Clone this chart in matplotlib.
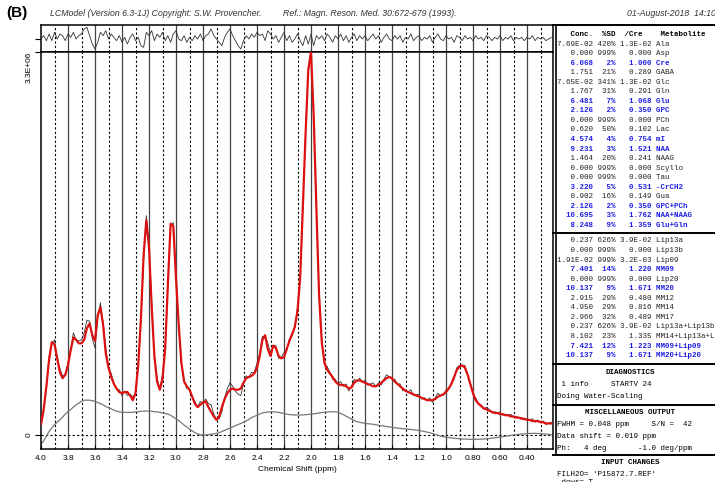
import numpy as np
import matplotlib
matplotlib.use('Agg')
import matplotlib.pyplot as plt
from matplotlib.lines import Line2D

W, H = 715, 482

# chemical shift grid (ppm), 4.00 down to 0.22 in 0.02 steps
ppm = np.round(np.arange(4.00, 0.215, -0.02), 2)

# LCModel fit (x1E+06), one row = 10 points of the grid
fit = [
    0.09, 0.22, 0.42, 0.65, 0.80, 0.78, 0.66, 0.54, 0.49, 0.52,   # 4.00-3.82
    0.60, 0.73, 0.84, 0.82, 0.79, 0.79, 0.82, 0.92, 0.96, 0.86,   # 3.80-3.62
    0.81, 1.03, 1.10, 0.95, 0.70, 0.58, 0.50, 0.44, 0.40, 0.37,   # 3.60-3.42
    0.36, 0.37, 0.37, 0.34, 0.30, 0.36, 0.60, 1.00, 1.55, 1.85,   # 3.40-3.22
    1.62, 1.10, 0.68, 0.46, 0.39, 0.48, 0.75, 1.30, 1.82, 1.80,   # 3.20-3.02
    1.35, 0.95, 0.62, 0.46, 0.42, 0.39, 0.33, 0.27, 0.24, 0.26,   # 3.00-2.82
    0.28, 0.29, 0.24, 0.20, 0.16, 0.13, 0.16, 0.24, 0.31, 0.36,   # 2.80-2.62
    0.39, 0.40, 0.39, 0.39, 0.40, 0.45, 0.49, 0.50, 0.51, 0.53,   # 2.60-2.42
    0.58, 0.68, 0.82, 0.86, 0.74, 0.68, 0.77, 0.75, 0.68, 0.66,   # 2.40-2.22
    0.67, 0.74, 0.81, 0.87, 0.93, 1.07, 1.36, 1.99, 2.60, 3.15,   # 2.20-2.02
    3.30, 2.75, 1.95, 1.20, 0.80, 0.62, 0.56, 0.53, 0.50, 0.46,   # 2.00-1.82
    0.44, 0.43, 0.43, 0.42, 0.40, 0.41, 0.45, 0.47, 0.47, 0.46,   # 1.80-1.62
    0.45, 0.44, 0.43, 0.42, 0.42, 0.43, 0.45, 0.47, 0.49, 0.50,   # 1.60-1.42
    0.49, 0.46, 0.44, 0.42, 0.40, 0.38, 0.37, 0.36, 0.35, 0.34,   # 1.40-1.22
    0.33, 0.32, 0.31, 0.30, 0.30, 0.30, 0.31, 0.33, 0.34, 0.35,   # 1.20-1.02
    0.37, 0.40, 0.44, 0.50, 0.56, 0.59, 0.60, 0.58, 0.52, 0.44,   # 1.00-0.82
    0.36, 0.30, 0.27, 0.25, 0.23, 0.22, 0.21, 0.20, 0.19, 0.19,   # 0.80-0.62
    0.18, 0.18, 0.17, 0.17, 0.16, 0.16, 0.15, 0.15, 0.14, 0.14,   # 0.60-0.42
    0.13, 0.13, 0.12, 0.12, 0.12, 0.11, 0.11, 0.10, 0.10, 0.10,   # 0.40-0.22
]

# baseline (gray curve)
baseline = [
    -0.08, -0.05, -0.01, 0.03, 0.06, 0.09, 0.11, 0.13, 0.155, 0.18,
    0.20, 0.22, 0.24, 0.26, 0.275, 0.29, 0.30, 0.30, 0.30, 0.295,
    0.29, 0.28, 0.27, 0.26, 0.245, 0.235, 0.225, 0.215, 0.205, 0.20,
    0.195, 0.195, 0.195, 0.195, 0.195, 0.20, 0.20, 0.205, 0.205, 0.207,
    0.207, 0.205, 0.20, 0.20, 0.195, 0.19, 0.185, 0.18, 0.17, 0.155,
    0.14, 0.125, 0.105, 0.085, 0.07, 0.05, 0.035, 0.02, 0.01, 0.003,
    0.0, 0.0, 0.003, 0.007, 0.01, 0.014, 0.02, 0.03, 0.04, 0.05,
    0.06, 0.07, 0.08, 0.09, 0.10, 0.11, 0.12, 0.135, 0.15, 0.16,
    0.17, 0.18, 0.19, 0.195, 0.197, 0.20, 0.20, 0.198, 0.195, 0.19,
    0.185, 0.18, 0.176, 0.174, 0.172, 0.172, 0.172, 0.173, 0.175, 0.177,
    0.18, 0.183, 0.186, 0.19, 0.193, 0.196, 0.198, 0.20, 0.20, 0.20,
    0.195, 0.185, 0.175, 0.162, 0.15, 0.137, 0.125, 0.115, 0.11, 0.105,
    0.10, 0.097, 0.095, 0.092, 0.088, 0.084, 0.08, 0.077, 0.073, 0.07,
    0.066, 0.063, 0.06, 0.057, 0.055, 0.052, 0.05, 0.047, 0.045, 0.042,
    0.04, 0.035, 0.03, 0.025, 0.02, 0.013, 0.005, -0.002, -0.009, -0.014,
    -0.018, -0.022, -0.025, -0.028, -0.03, -0.032, -0.034, -0.035, -0.036, -0.037,
    -0.037, -0.037, -0.037, -0.036, -0.035, -0.033, -0.03, -0.027, -0.024, -0.021,
    -0.018, -0.015, -0.011, -0.008, -0.004, 0.0, 0.003, 0.006, 0.008, 0.01,
    0.012, 0.013, 0.014, 0.014, 0.013, 0.012, 0.01, 0.008, 0.005, 0.003,
]

# residual = data - fit (top strip)
resid = [
    0.00, 0.02, -0.01, 0.03, -0.01, 0.04, 0.00, 0.03, 0.02, -0.01,
    0.03, 0.01, 0.04, 0.00, 0.02, 0.03, 0.06, 0.07, 0.02, -0.03,
    -0.06, -0.02, 0.04, 0.02, 0.05, 0.00, 0.03, 0.01, -0.01, 0.02,
    -0.02, 0.01, -0.03, 0.01, 0.03, -0.01, 0.01, -0.04, -0.05, 0.04,
    0.02, 0.05, -0.01, 0.03, 0.01, 0.04, -0.01, 0.02, -0.02, 0.03,
    0.05, 0.00, -0.01, 0.02, -0.02, 0.01, -0.01, 0.02, 0.00, 0.03,
    -0.01, 0.02, 0.03, 0.06, 0.02, 0.00, -0.02, -0.04, 0.01, 0.04,
    0.06, 0.02, -0.01, -0.04, -0.06, -0.01, 0.02, 0.00, 0.03, 0.01,
    0.04, 0.02, 0.03, -0.01, 0.05, 0.03, 0.00, 0.02, -0.02, 0.01,
    0.04, -0.01, 0.02, -0.02, 0.00, 0.03, -0.01, -0.04, 0.02, -0.03,
    0.03, -0.04, 0.02, 0.00, 0.02, -0.01, 0.03, 0.01, -0.02, 0.02,
    0.00, 0.03, -0.01, 0.02, -0.02, 0.01, 0.03, -0.01, 0.02, 0.00,
    0.02, -0.01, 0.01, 0.03, 0.00, 0.02, -0.02, 0.01, 0.03, 0.00,
    -0.01, 0.02, 0.00, 0.02, -0.02, 0.01, 0.00, 0.03, -0.01, 0.01,
    0.02, -0.01, 0.01, 0.00, 0.02, -0.02, 0.01, 0.03, 0.00, -0.01,
    0.02, 0.00, 0.01, -0.02, 0.02, 0.01, -0.01, 0.02, 0.00, 0.01,
    -0.01, 0.02, 0.00, 0.01, -0.01, 0.02, 0.01, -0.01, 0.01, 0.00,
    0.02, -0.01, 0.01, 0.00, 0.02, -0.01, 0.01, 0.00, 0.01, -0.01,
    0.01, 0.00, 0.02, -0.01, 0.01, 0.00, 0.01, -0.01, 0.00, 0.01,
]

xtick_vals = [4.0, 3.8, 3.6, 3.4, 3.2, 3.0, 2.8, 2.6, 2.4, 2.2, 2.0,
              1.8, 1.6, 1.4, 1.2, 1.0, 0.8, 0.6, 0.4]
xtick_labels = ['4.0', '3.8', '3.6', '3.4', '3.2', '3.0', '2.8', '2.6', '2.4',
                '2.2', '2.0', '1.8', '1.6', '1.4', '1.2', '1.0', '0.80', '0.60', '0.40']

# concentration table
metab_conc = ['7.69E-02', '0.000', '6.068', '1.751', '7.65E-02', '1.767', '6.481',
              '2.126', '0.000', '0.620', '4.574', '9.231', '1.464', '0.000', '0.000',
              '3.220', '0.902', '2.126', '10.695', '8.248']
metab_sd = [420, 999, 2, 21, 341, 31, 7, 2, 999, 50, 4, 3, 20, 999, 999, 5, 16, 2, 3, 9]
metab_cre = ['1.3E-02', '0.000', '1.000', '0.289', '1.3E-02', '0.291', '1.068',
             '0.350', '0.000', '0.102', '0.754', '1.521', '0.241', '0.000', '0.000',
             '0.531', '0.149', '0.350', '1.762', '1.359']
metab_names = ['Ala', 'Asp', 'Cre', 'GABA', 'Glc', 'Gln', 'Glu', 'GPC', 'PCh', 'Lac',
               'mI', 'NAA', 'NAAG', 'Scyllo', 'Tau', '-CrCH2', 'Gua', 'GPC+PCh',
               'NAA+NAAG', 'Glu+Gln']

lip_conc = ['0.237', '0.000', '1.91E-02', '7.401', '0.000', '10.137', '2.915',
            '4.950', '2.966', '0.237', '8.102', '7.421', '10.137']
lip_sd = [626, 999, 999, 14, 999, 9, 29, 29, 32, 626, 23, 12, 9]
lip_cre = ['3.9E-02', '0.000', '3.2E-03', '1.220', '0.000', '1.671', '0.480',
           '0.816', '0.489', '3.9E-02', '1.335', '1.223', '1.671']
lip_names = ['Lip13a', 'Lip13b', 'Lip09', 'MM09', 'Lip20', 'MM20', 'MM12', 'MM14',
             'MM17', 'Lip13a+Lip13b', 'MM14+Lip13a+Lip13b', 'MM09+Lip09', 'MM20+Lip20']

MONO = 'Liberation Mono'
SANS = 'Liberation Sans'
BLUE = '#1f1fe6'


def fx(px):
    return px / W


def fy(py):
    return 1 - py / H


def hline(fig, y, x0=553, x1=W, lw=1.4):
    fig.add_artist(Line2D([fx(x0), fx(x1)], [fy(y), fy(y)], color='k', lw=lw,
                          transform=fig.transFigure))


def main():
    fig = plt.figure(figsize=(W / 100, H / 100), dpi=100)
    ax_res = fig.add_axes([fx(41), fy(52), 512 / W, 27 / H])
    ax = fig.add_axes([fx(41), fy(449), 512 / W, 397 / H])

    xmin, xmax = 4.0, 4.0 - 512 / 135.0
    for a in (ax, ax_res):
        a.set_xlim(xmin, xmax)
        for v in np.arange(3.8, 0.3, -0.2):
            a.axvline(v, color='#444444', lw=0.9, zorder=1)
        for v in np.arange(3.9, 0.25, -0.2):
            a.axvline(v, color='k', lw=0.8, ls=(0, (2, 2)), zorder=1)
        for s in a.spines.values():
            s.set_linewidth(1.1)

    data = np.array(fit) + np.array(resid)

    ax.axhline(0, color='k', lw=0.8, ls=(0, (2, 2)), zorder=1)
    ax.plot(ppm, baseline, color='#777777', lw=0.9, zorder=2)
    ax.plot(ppm, data, color='#333333', lw=0.6, zorder=3)
    ax.plot(ppm, fit, color='#dd1111', lw=1.6, zorder=4)
    ax.set_ylim(-14 * 3.3 / 383, 3.3)

    ax.set_xticks(xtick_vals)
    ax.set_xticklabels(xtick_labels, fontsize=6, family=SANS)
    ax.tick_params(axis='x', direction='in', length=3, pad=4)
    ax.set_yticks([0, 3.3])
    ax.set_yticklabels(['0', '3.3E+06'], fontsize=6, family=SANS, rotation=90)
    ax.get_yticklabels()[1].set_va('top')
    ax.tick_params(axis='y', direction='out', length=4, pad=2)
    ax.set_xlabel('Chemical Shift (ppm)', fontsize=6, family=SANS, labelpad=3)

    ax_res.plot(ppm, resid, color='#333333', lw=0.6, zorder=3)
    ax_res.set_ylim(-0.078, 0.084)
    ax_res.set_xticks([])
    ax_res.set_yticks([0])
    ax_res.set_yticklabels([])
    ax_res.tick_params(axis='y', direction='out', length=4)

    # header texts
    fig.text(fx(6), fy(13), '(B)', fontsize=11, fontweight='bold', family=SANS,
             va='center', ha='left')
    fig.text(fx(50), fy(14), 'LCModel (Version 6.3-1J) Copyright: S.W. Provencher.',
             fontsize=6.3, style='italic', family=SANS, color='#333333', va='center')
    fig.text(fx(283), fy(14), 'Ref.: Magn. Reson. Med. 30:672-679 (1993).',
             fontsize=6.3, style='italic', family=SANS, color='#333333', va='center')
    fig.text(fx(627), fy(14), '01-August-2018  14:10',
             fontsize=6.3, style='italic', family=SANS, color='#333333', va='center')

    # right hand table box
    hline(fig, 25, x0=553)
    fig.add_artist(Line2D([fx(556), fx(556)], [fy(25), fy(455)], color='k', lw=1.2,
                          transform=fig.transFigure))
    for y in (233, 364, 405, 455):
        hline(fig, y)

    x0 = fx(557)
    fs = 5.4
    fig.text(x0, fy(34), '   Conc.  %SD  /Cre    Metabolite', family=MONO,
             fontsize=fs, fontweight='bold', va='center')
    for i in range(len(metab_names)):
        row = f'{metab_conc[i]:>8} {metab_sd[i]:>3}% {metab_cre[i]:>7} {metab_names[i]}'
        blue = metab_sd[i] < 15
        fig.text(x0, fy(44 + i * 9.55), row, family=MONO, fontsize=fs,
                 color=BLUE if blue else '#222222',
                 fontweight='bold' if blue else 'normal', va='center')
    for i in range(len(lip_names)):
        row = f'{lip_conc[i]:>8} {lip_sd[i]:>3}% {lip_cre[i]:>7} {lip_names[i]}'
        blue = lip_sd[i] < 15
        fig.text(x0, fy(241 + i * 9.55), row, family=MONO, fontsize=fs,
                 color=BLUE if blue else '#222222',
                 fontweight='bold' if blue else 'normal', va='center')

    # diagnostics / misc output / input changes
    cx = fx(630)
    fig.text(cx, fy(373), 'DIAGNOSTICS', family=MONO, fontsize=fs, fontweight='bold',
             ha='center', va='center')
    fig.text(x0, fy(385), ' 1 info     STARTV 24', family=MONO, fontsize=fs, va='center')
    fig.text(x0, fy(397), 'Doing Water-Scaling', family=MONO, fontsize=fs, va='center')
    fig.text(cx, fy(413), 'MISCELLANEOUS OUTPUT', family=MONO, fontsize=fs,
             fontweight='bold', ha='center', va='center')
    fig.text(x0, fy(424), 'FWHM = 0.048 ppm     S/N =  42', family=MONO, fontsize=fs,
             va='center')
    fig.text(x0, fy(436), 'Data shift = 0.019 ppm', family=MONO, fontsize=fs, va='center')
    fig.text(x0, fy(448), 'Ph:   4 deg       -1.0 deg/ppm', family=MONO, fontsize=fs,
             va='center')
    fig.text(cx, fy(463), 'INPUT CHANGES', family=MONO, fontsize=fs, fontweight='bold',
             ha='center', va='center')
    fig.text(x0, fy(474), "FILH2O= 'P15872.7.REF'", family=MONO, fontsize=fs, va='center')
    fig.text(x0, fy(483), ' dows= T', family=MONO, fontsize=fs, va='center')

    fig.savefig('out.png', dpi=100)


if __name__ == '__main__':
    main()
